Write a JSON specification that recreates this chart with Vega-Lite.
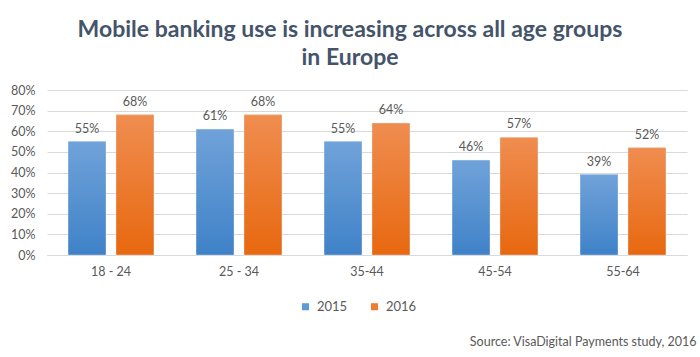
{
  "$schema": "https://vega.github.io/schema/vega-lite/v6.json",
  "width": 640,
  "height": 165,
  "autosize": "none",
  "padding": {"left": 47, "top": 90, "right": 13, "bottom": 102},
  "background": "white",
  "config": {
    "font": "Lato",
    "view": {"stroke": null}
  },
  "title": {
    "text": ["Mobile banking use is increasing across all age groups", "in Europe"],
    "font": "Lato",
    "fontSize": 23,
    "fontWeight": "bold",
    "color": "#44546A",
    "anchor": "middle",
    "dx": -17,
    "offset": 14,
    "lineHeight": 28
  },
  "data": {
    "values": [
      {"age": "18 - 24", "year": "2015", "value": 0.55},
      {"age": "18 - 24", "year": "2016", "value": 0.68},
      {"age": "25 - 34", "year": "2015", "value": 0.61},
      {"age": "25 - 34", "year": "2016", "value": 0.68},
      {"age": "35-44", "year": "2015", "value": 0.55},
      {"age": "35-44", "year": "2016", "value": 0.64},
      {"age": "45-54", "year": "2015", "value": 0.46},
      {"age": "45-54", "year": "2016", "value": 0.57},
      {"age": "55-64", "year": "2015", "value": 0.39},
      {"age": "55-64", "year": "2016", "value": 0.52}
    ]
  },
  "encoding": {
    "x": {
      "field": "age",
      "type": "nominal",
      "sort": null,
      "scale": {"paddingInner": 0.33, "paddingOuter": 0.165},
      "axis": {
        "labelAngle": 0,
        "labelFontSize": 12.5,
        "labelColor": "#595959",
        "labelPadding": 10,
        "ticks": false,
        "domain": true,
        "domainColor": "#d9d9d9",
        "title": "Source: VisaDigital Payments study, 2016",
        "titleFontWeight": "normal",
        "titleFontSize": 12.5,
        "titleColor": "#595959",
        "titleAlign": "right",
        "titleAnchor": "end",
        "titleX": 649,
        "titleY": 90,
        "titleBaseline": "alphabetic"
      }
    },
    "xOffset": {
      "field": "year",
      "type": "nominal",
      "scale": {"paddingInner": 0.21, "paddingOuter": 0}
    },
    "y": {
      "field": "value",
      "type": "quantitative",
      "scale": {"domain": [0, 0.8], "nice": false},
      "axis": {
        "values": [0, 0.1, 0.2, 0.3, 0.4, 0.5, 0.6, 0.7, 0.8],
        "format": ".0%",
        "labelFontSize": 12.5,
        "labelColor": "#595959",
        "labelPadding": 12,
        "domain": false,
        "ticks": false,
        "gridColor": "#d9d9d9",
        "title": null
      }
    }
  },
  "layer": [
    {
      "mark": {"type": "bar"},
      "encoding": {
        "color": {
          "field": "year",
          "type": "nominal",
          "scale": {"domain": ["2015", "2016"], "range": ["#5b9bd5", "#ed7d31"]},
          "legend": {
            "title": null,
            "orient": "none",
            "direction": "horizontal",
            "legendX": 252,
            "legendY": 210,
            "symbolType": "square",
            "symbolSize": 50,
            "labelFontSize": 13,
            "labelColor": "#595959",
            "labelOffset": 5,
            "columnPadding": 20
          }
        }
      }
    },
    {
      "mark": {"type": "bar", "stroke": "#e8eef6", "strokeWidth": 0.6, "strokeOpacity": 0.6},
      "encoding": {
        "fill": {
          "condition": {
            "test": "datum.year == '2015'",
            "value": {
              "gradient": "linear", "x1": 0, "y1": 0, "x2": 0, "y2": 1,
              "stops": [{"offset": 0, "color": "#70a2d9"}, {"offset": 1, "color": "#3f82c8"}]
            }
          },
          "value": {
            "gradient": "linear", "x1": 0, "y1": 0, "x2": 0, "y2": 1,
            "stops": [{"offset": 0, "color": "#ef8d50"}, {"offset": 1, "color": "#e8680f"}]
          }
        }
      }
    },
    {
      "mark": {"type": "text", "baseline": "bottom", "dy": -6, "fontSize": 12.5, "color": "#595959"},
      "encoding": {
        "text": {"field": "value", "type": "quantitative", "format": ".0%"}
      }
    }
  ]
}
